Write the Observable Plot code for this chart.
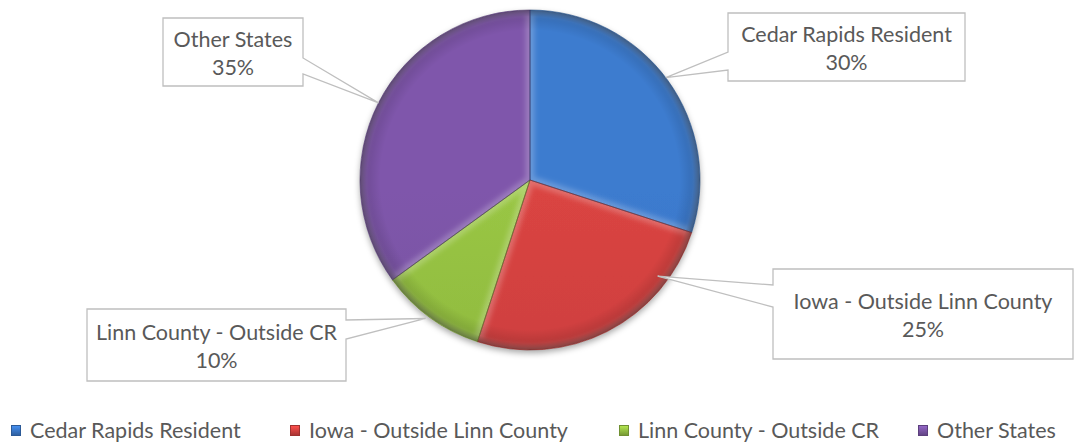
<!DOCTYPE html>
<html><head><meta charset="utf-8">
<script src="https://cdn.jsdelivr.net/npm/d3@7"></script>
<script src="https://cdn.jsdelivr.net/npm/@observablehq/plot@0.6"></script>
<style>
body{margin:0;background:#fff;font-family:Lato,"Open Sans",sans-serif;}
#chart{position:relative;width:1074px;height:444px;overflow:hidden;}
#legend{position:absolute;left:0;top:405px;width:1074px;height:39px;}
.item{position:absolute;top:13px;height:24px;display:flex;align-items:center;font-size:21.5px;color:#595959;white-space:nowrap;}
.sw{width:10px;height:11px;margin-right:9px;box-sizing:border-box;}
</style></head><body>
<div id="chart"><div id="plot"></div><div id="legend"></div></div>
<script>
// ---- data ----
const categories = ["Cedar Rapids Resident", "Iowa - Outside Linn County", "Linn County - Outside CR", "Other States"];
const shares = [30, 25, 10, 35];
const percentLabels = ["30%", "25%", "10%", "35%"];
const colors = ["#3a78c9", "#d44240", "#95c042", "#7b55a6"];

// ---- layout (callout boxes, pointer attach, tip angle) ----
const boxes = [
  {x0: 728, x1: 965, y0: 13, y1: 81, side: "left", p0: 52, p1: 70, tipAngle: 53, tipR: 1.0},
  {x0: 773, x1: 1073, y0: 269, y1: 359, side: "left", p0: 285, p1: 307, tipAngle: 127, tipR: 0.94},
  {x0: 87, x1: 346, y0: 309, y1: 381, side: "right", p0: 320, p1: 339, tipAngle: 217, tipR: 1.02},
  {x0: 163, x1: 303, y0: 18, y1: 86, side: "right", p0: 58, p1: 74, tipAngle: 297, tipR: 1.0}
];
const legendLeft = [11, 290, 619, 918];

const data = categories.map((c, i) => ({category: c, value: shares[i], label: percentLabels[i], color: colors[i]}));

function pieMark(index, scales) {
  const cx = scales.x(0), cy = scales.y(0), R = scales.x(1) - scales.x(0);
  const arcs = d3.pie().sort(null).value(d => d.value)(data);
  const arc = d3.arc().innerRadius(0).outerRadius(R);
  const g = d3.create("svg:g");
  const defs = g.append("defs");
  const sh = defs.append("filter").attr("id", "shadow").attr("x", "-20%").attr("y", "-20%").attr("width", "140%").attr("height", "140%");
  sh.append("feDropShadow").attr("dx", 0).attr("dy", 3).attr("stdDeviation", 3).attr("flood-color", "#000").attr("flood-opacity", 0.35);
  const bl = defs.append("filter").attr("id", "blur").attr("x", "-20%").attr("y", "-20%").attr("width", "140%").attr("height", "140%");
  bl.append("feGaussianBlur").attr("stdDeviation", 2.5);
  const rim = defs.append("radialGradient").attr("id", "rim").attr("gradientUnits", "userSpaceOnUse")
    .attr("cx", cx).attr("cy", cy).attr("r", R);
  [[0, 0], [0.88, 0], [0.96, 0.12], [1, 0.4]].forEach(([o, a]) =>
    rim.append("stop").attr("offset", o).attr("stop-color", "#000").attr("stop-opacity", a));
  arcs.forEach((a, i) => {
    const c = d3.color(a.data.color);
    const lg = defs.append("linearGradient").attr("id", "lg" + i).attr("gradientUnits", "userSpaceOnUse")
      .attr("x1", cx).attr("y1", cy - R).attr("x2", cx).attr("y2", cy + R);
    lg.append("stop").attr("offset", 0).attr("stop-color", c.brighter(0.08).formatHex());
    lg.append("stop").attr("offset", 1).attr("stop-color", c.darker(0.25).formatHex());
    defs.append("clipPath").attr("id", "cp" + i).append("path")
      .attr("transform", `translate(${cx},${cy})`).attr("d", arc(a));
  });
  const base = g.append("g").attr("filter", "url(#shadow)").attr("transform", `translate(${cx},${cy})`);
  arcs.forEach((a, i) => base.append("path").attr("d", arc(a)).attr("fill", `url(#lg${i})`));
  arcs.forEach((a, i) => {
    const s = g.append("g").attr("clip-path", `url(#cp${i})`);
    s.append("path").attr("transform", `translate(${cx},${cy})`).attr("d", arc(a))
      .attr("fill", "none").attr("stroke", "#fff").attr("stroke-opacity", 0.22).attr("stroke-width", 9).attr("filter", "url(#blur)");
    s.append("circle").attr("cx", cx).attr("cy", cy).attr("r", R).attr("fill", "url(#rim)");
  });
  arcs.forEach((a, i) => g.append("path").attr("transform", `translate(${cx},${cy})`).attr("d", arc(a))
    .attr("fill", "none").attr("stroke", d3.color(a.data.color).darker(1.4).formatHex()).attr("stroke-opacity", 0.6).attr("stroke-width", 1));

  // callouts
  arcs.forEach((a, i) => {
    const b = boxes[i];
    const ang = b.tipAngle * Math.PI / 180;
    const tx = cx + Math.sin(ang) * R * b.tipR, ty = cy - Math.cos(ang) * R * b.tipR;
    let p;
    if (b.side === "left") {
      p = `M${b.x0},${b.y0}H${b.x1}V${b.y1}H${b.x0}V${b.p1}L${tx},${ty}L${b.x0},${b.p0}Z`;
    } else {
      p = `M${b.x0},${b.y0}H${b.x1}V${b.p0}L${tx},${ty}L${b.x1},${b.p1}V${b.y1}H${b.x0}Z`;
    }
    g.append("path").attr("d", p).attr("fill", "#fff").attr("stroke", "#bfbfbf").attr("stroke-width", 1.3);
    const mx = (b.x0 + b.x1) / 2, my = (b.y0 + b.y1) / 2;
    const t = g.append("text").attr("text-anchor", "middle").attr("fill", "#595959")
      .attr("font-family", "Lato, 'Open Sans', sans-serif").attr("font-size", 21.5);
    t.append("tspan").attr("x", mx).attr("y", my - 5).text(a.data.category);
    t.append("tspan").attr("x", mx).attr("y", my + 23).text(a.data.label);
  });
  return g.node();
}

const chart = Plot.plot({
  width: 1074,
  height: 405,
  margin: 0,
  x: {domain: [-1, 1], range: [360, 700], axis: null},
  y: {domain: [-1, 1], range: [350, 10], axis: null},
  marks: [
    Plot.dot([{x: -1, y: -1}, {x: 1, y: 1}], {x: "x", y: "y", r: 0, stroke: "none"}),
    pieMark
  ]
});
document.getElementById("plot").appendChild(chart);

const legend = d3.select("#legend");
data.forEach((d, i) => {
  const c = d3.color(d.color);
  const it = legend.append("div").attr("class", "item").style("left", legendLeft[i] + "px");
  it.append("div").attr("class", "sw")
    .style("background", `linear-gradient(${c.brighter(0.5).formatHex()}, ${c.darker(0.6).formatHex()})`)
    .style("border", `1px solid ${c.darker(0.8).formatHex()}`);
  it.append("span").text(d.category);
});
</script>
</body></html>
